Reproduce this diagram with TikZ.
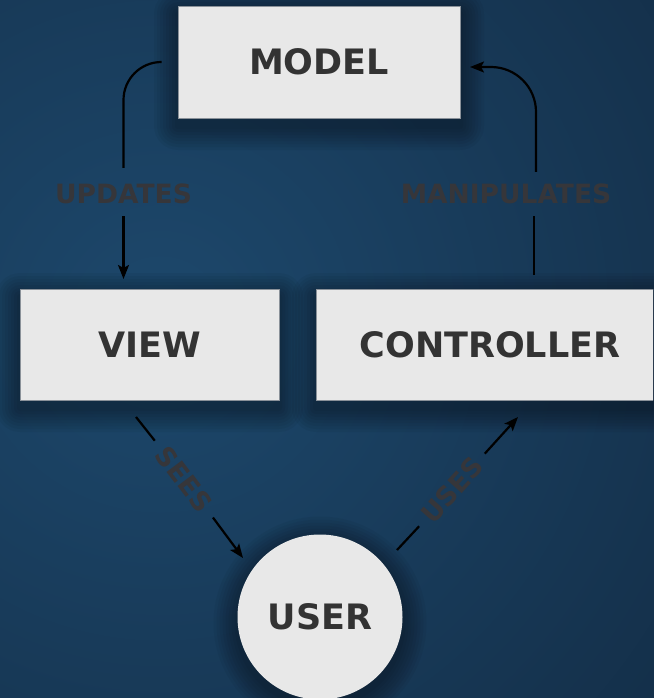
\documentclass[tikz,border=0pt]{standalone}
\usepackage{fontspec}
\setmainfont{DejaVu Sans}
\usetikzlibrary{calc}
\usetikzlibrary{arrows.meta}
\pgfdeclarelayer{background}
\pgfsetlayers{background,main}
\definecolor{boxfill}{HTML}{E8E8E8}
\definecolor{boxline}{HTML}{8A9199}
\definecolor{boxtext}{HTML}{333333}
\definecolor{flowcolor}{HTML}{36363A}
\definecolor{bglight}{HTML}{1D486C}
\definecolor{bgdark}{HTML}{0C1B2D}
\pgfdeclareradialshading{bgglow}{\pgfpoint{0bp}{0bp}}{color(0bp)=(bglight); color(32bp)=(bgdark); color(50bp)=(bgdark)}
\tikzset{%
    block/.style={inner sep=0pt,outer sep=0pt,shape=rectangle,draw=boxline,line width=0.8pt,fill=boxfill,text=boxtext,font=\fontsize{35}{42}\selectfont\bfseries},
    round block/.style={block,shape=circle,draw=none,minimum size=165pt},
    flowtext/.style={inner sep=0pt,outer sep=0pt,text=flowcolor,font=\fontsize{26.5}{30}\selectfont\bfseries},
    link/.style={line width=2.2pt,draw=black},
    halo/.style={fill=black,opacity=0.045},
}
\begin{document}
\begin{tikzpicture}[x=1pt,y=-1pt,>={Stealth[length=14pt,width=11pt,inset=3pt]}]
        \useasboundingbox (0,0) rectangle (653,698);
        \clip (0,0) rectangle (653,698);

        \node[block,minimum width=282pt,minimum height=112pt] (model) at (319,62) {MODEL};
        \node[block,minimum width=259pt,minimum height=111pt] (view) at (149.5,344.5) {VIEW};
        \node[block,minimum width=348pt,minimum height=111pt] (controller) at (490,344.5) {CONTROLLER};
        \node[round block] (user) at (320,617) {USER};

        \begin{pgfonlayer}{background}
        \fill[bgdark] (0,0) rectangle (653,698);
        \shade[shading=bgglow] (160,320) circle (900);
        % soft shadows behind the blocks
        \foreach \n in {model,view,controller}
            \foreach \s in {3,6,...,24}
                \fill[halo,rounded corners=\s pt] ([xshift=-\s pt,yshift={\s pt-8pt}]\n.north west) rectangle ([xshift=\s pt,yshift={-\s pt-8pt}]\n.south east);
        \foreach \s in {3,6,...,24}
            \fill[halo] ([yshift=-6pt]user.center) circle (82.5+\s);
        \end{pgfonlayer}

        \node[flowtext] (updates) at (123.5,194) {UPDATES};
        \node[flowtext] (manipulates) at (506,194) {MANIPULATES};
        \node[flowtext,rotate=-53] (sees) at (184,479) {SEES};
        \node[flowtext,rotate=48] (uses) at (452,490) {USES};

        \draw[link,rounded corners=38pt,shorten <=18pt,shorten >=16pt] (model.west) -| (updates.north);
        \draw[link,->,shorten <=12pt,shorten >=10pt] (updates.south) -- (updates.south |- view.north);

        \draw[link,shorten <=14pt,shorten >=12pt] ([xshift=28pt]manipulates.south |- controller.north) -- ([xshift=28pt]manipulates.south);
        \draw[link,->,rounded corners=45pt,shorten <=12pt,shorten >=10pt] ([xshift=30pt]manipulates.north) |- ([yshift=-5pt]model.east);

        \coordinate (seesFrom) at (136,417);
        \coordinate (seesTo) at (243,558);
        \draw[link,shorten >=11pt] (seesFrom) -- (sees.west);
        \draw[link,->,shorten <=11pt] (sees.east) -- (seesTo);

        \coordinate (usesFrom) at (397,550);
        \coordinate (usesTo) at (518,417);
        \draw[link,shorten >=10pt] (usesFrom) -- (uses.west);
        \draw[link,->,shorten <=10pt] (uses.east) -- (usesTo);
    \end{tikzpicture}
\end{document}
